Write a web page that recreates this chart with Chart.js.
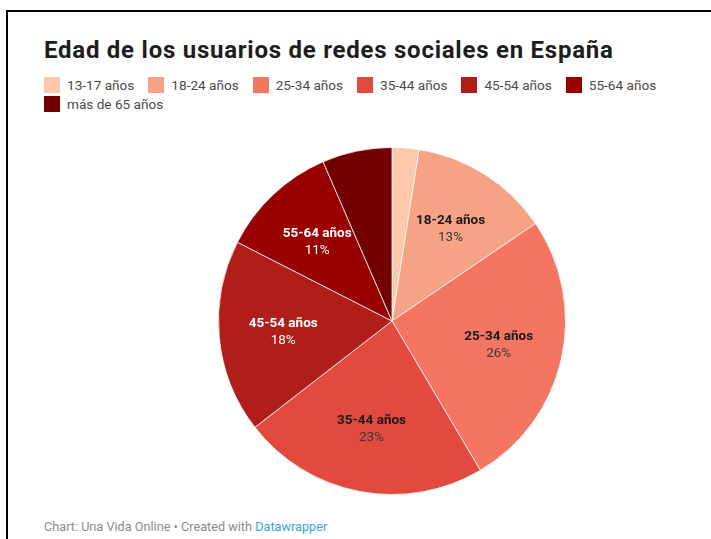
<!DOCTYPE html>
<html>
<head>
<meta charset="utf-8">
<title>Edad de los usuarios de redes sociales en España</title>
<style>
  html, body { margin: 0; padding: 0; background: #fff; }
  body { width: 711px; height: 539px; position: relative; overflow: hidden; font-family: Roboto, "Noto Sans", sans-serif; }
  .frame { position: absolute; left: 6px; top: 10px; right: -4px; bottom: -4px; border-left: 2px solid #000; border-top: 2px solid #000; }
  h1 { position: absolute; left: 44px; top: 36px; margin: 0; font-size: 24px; line-height: 28px; font-weight: 700; color: #1d1d1d; letter-spacing: 0.75px; white-space: nowrap; }
  #legend { position: absolute; left: 44px; top: 76px; width: 650px; font-size: 13.6px; color: #4a4a4a; line-height: 19px; }
  #legend span.item { display: inline-block; margin-right: 14px; white-space: nowrap; }
  #legend i { display: inline-block; width: 16px; height: 16px; vertical-align: -3px; margin-right: 7px; }
  .footer { position: absolute; left: 44px; top: 519px; font-size: 12.7px; color: #8a8a8a; }
  .footer a { color: #3ea3d6; text-decoration: none; }
  .chart { position: absolute; left: 212px; top: 141px; width: 360px; height: 360px; }
</style>
</head>
<body>
<div class="frame"></div>
<h1>Edad de los usuarios de redes sociales en España</h1>
<div id="legend"></div>
<div class="chart"><canvas id="agePie"></canvas></div>
<div class="footer">Chart: Una Vida Online • Created with <a>Datawrapper</a></div>

<script src="https://cdn.jsdelivr.net/npm/chart.js"></script>
<script>
// age groups and their share of users (%)
const ageGroups = ['13-17 años', '18-24 años', '25-34 años', '35-44 años', '45-54 años', '55-64 años', 'más de 65 años'];
const shares = [2.5, 13, 26, 23, 18, 11, 6.5];
const sliceColors = ['#fdc9ad', '#f6a285', '#f47562', '#e34a3f', '#b11d18', '#990000', '#730000'];
// slices below this share get no label
const minLabelShare = 10;

// legend
const legend = document.getElementById('legend');
ageGroups.forEach((g, i) => {
  const item = document.createElement('span');
  item.className = 'item';
  const box = document.createElement('i');
  box.style.background = sliceColors[i];
  item.appendChild(box);
  item.appendChild(document.createTextNode(g));
  legend.appendChild(item);
});

function isDark(hex) {
  const r = parseInt(hex.slice(1, 3), 16), g = parseInt(hex.slice(3, 5), 16), b = parseInt(hex.slice(5, 7), 16);
  return (0.299 * r + 0.587 * g + 0.114 * b) < 110;
}

// labels inside the slices: group name in bold, share underneath
const sliceLabels = {
  id: 'sliceLabels',
  afterDatasetsDraw(chart) {
    const ctx = chart.ctx;
    const data = chart.data.datasets[0].data;
    const total = data.reduce((a, b) => a + b, 0);
    chart.getDatasetMeta(0).data.forEach((arc, i) => {
      const pct = data[i] / total * 100;
      if (pct < minLabelShare) return;
      const mid = (arc.startAngle + arc.endAngle) / 2;
      const r = arc.outerRadius * 0.63;
      const x = arc.x + Math.cos(mid) * r;
      const y = arc.y + Math.sin(mid) * r;
      const dark = isDark(sliceColors[i]);
      ctx.save();
      ctx.textAlign = 'center';
      ctx.textBaseline = 'middle';
      ctx.font = 'bold 13.5px Roboto';
      ctx.fillStyle = dark ? '#ffffff' : '#1a1a1a';
      ctx.fillText(chart.data.labels[i], x, y - 8);
      ctx.font = '13.5px Roboto';
      ctx.fillStyle = dark ? '#ffffff' : '#3a3a3a';
      ctx.fillText(Math.round(pct) + '%', x, y + 9);
      ctx.restore();
    });
  }
};

new Chart(document.getElementById('agePie'), {
  type: 'pie',
  data: {
    labels: ageGroups,
    datasets: [{
      data: shares,
      backgroundColor: sliceColors,
      borderColor: 'rgba(255,255,255,0.75)',
      borderWidth: 1
    }]
  },
  options: {
    responsive: true,
    maintainAspectRatio: false,
    animation: false,
    layout: { padding: 6 },
    plugins: {
      legend: { display: false },
      tooltip: { enabled: false }
    }
  },
  plugins: [sliceLabels]
});
</script>
</body>
</html>
